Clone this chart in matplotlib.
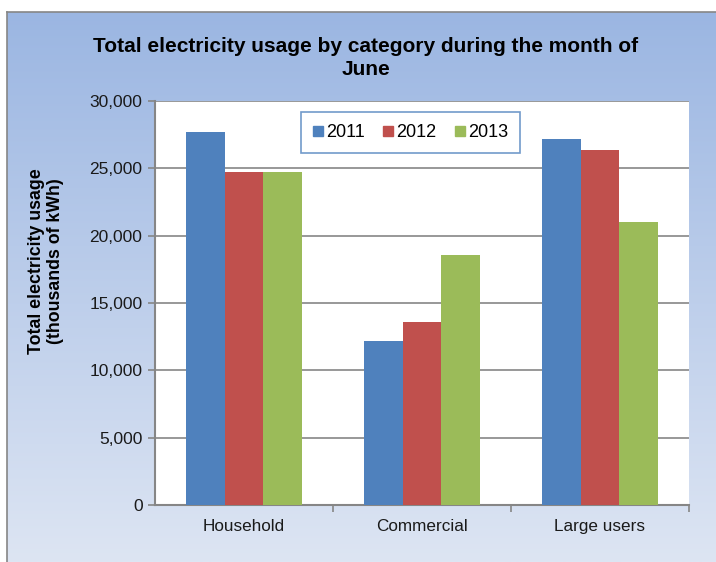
import matplotlib
matplotlib.use("Agg")
import matplotlib.pyplot as plt
import numpy as np
from matplotlib.lines import Line2D
from matplotlib.colors import LinearSegmentedColormap

categories = ["Household", "Commercial", "Large users"]
years = ["2011", "2012", "2013"]
values_2011 = [27700, 12200, 27150]
values_2012 = [24700, 13600, 26350]
values_2013 = [24700, 18550, 21000]
series = [values_2011, values_2012, values_2013]
colors = ["#4F81BD", "#C0504D", "#9BBB59"]
yticks = [0, 5000, 10000, 15000, 20000, 25000, 30000]

plt.rcParams['font.family'] = ['Liberation Sans', 'DejaVu Sans']

W, H = 716, 562
fig = plt.figure(figsize=(W / 100, H / 100), dpi=100)
fig.patch.set_facecolor("white")

# background frame with gradient
bg = fig.add_axes([7 / W, 0, 1 - 7 / W, 1 - 12 / H], zorder=0)
grad = np.linspace(0, 1, 256).reshape(-1, 1)
cmap = LinearSegmentedColormap.from_list("g", ["#9BB6E2", "#DDE5F3"])
bg.imshow(grad, aspect="auto", cmap=cmap, extent=[0, 1, 0, 1], origin="upper")
bg.set_xlim(0, 1)
bg.set_ylim(0, 1)
bg.set_xticks([])
bg.set_yticks([])
for s in ["right", "bottom"]:
    bg.spines[s].set_visible(False)
for s in ["left", "top"]:
    bg.spines[s].set_color("#868686")
    bg.spines[s].set_linewidth(1.2)

left, right, top, bottom = 155, 689, 101, 505
ax = fig.add_axes([left / W, 1 - bottom / H, (right - left) / W, (bottom - top) / H], zorder=1)
ax.set_facecolor("white")

x = np.arange(len(categories))
bw = 0.219
for i, (vals, c, yr) in enumerate(zip(series, colors, years)):
    ax.bar(x + (i - 1) * bw, vals, width=bw, color=c, edgecolor="none", label=yr, zorder=3)

ax.set_xlim(-0.5, 2.5)
ax.set_ylim(0, 30000)
ax.set_yticks(yticks)
ax.set_yticklabels([f"{v:,}" for v in yticks], fontsize=12.5, color="#1a1a1a")
ax.yaxis.grid(True, color="#868686", linewidth=1.2, zorder=1)
ax.set_axisbelow(True)
ax.set_xticks(x)
ax.set_xticklabels(categories, fontsize=12.3, color="#1a1a1a")
ax.tick_params(axis="x", length=0, pad=10)
ax.set_xticks([0.5, 1.5, 2.5], minor=True)
ax.tick_params(axis="x", which="minor", length=5, color="#868686", width=1.2)
ax.tick_params(axis="y", length=5, color="#868686", width=1.2, pad=4)
for s in ["top", "right"]:
    ax.spines[s].set_visible(False)
for s in ["left", "bottom"]:
    ax.spines[s].set_color("#868686")
    ax.spines[s].set_linewidth(1.5)

handles = [Line2D([], [], marker="s", linestyle="none", markersize=7,
                  markerfacecolor=c, markeredgecolor=c) for c in colors]
leg = fig.legend(handles, years, loc="center", ncol=3,
                 bbox_to_anchor=(410.5 / W, 1 - 132.5 / H), fontsize=13,
                 frameon=True, fancybox=False, handlelength=0.55,
                 handletextpad=0.15, columnspacing=1.05, borderpad=0.65,
                 borderaxespad=0)
leg.get_frame().set_edgecolor("#4F81BD")
leg.get_frame().set_linewidth(1.2)
leg.set_zorder(5)

fig.text(365.5 / W, 1 - 58 / H,
         "Total electricity usage by category during the month of\nJune",
         ha="center", va="center", fontsize=15, fontweight="bold",
         linespacing=1.28, zorder=5)

fig.text(46 / W, 1 - 261 / H, "Total electricity usage\n(thousands of kWh)",
         rotation=90, ha="center", va="center", fontsize=12.8, fontweight="bold",
         linespacing=1.2, zorder=5)

fig.savefig("out.png", dpi=100)
